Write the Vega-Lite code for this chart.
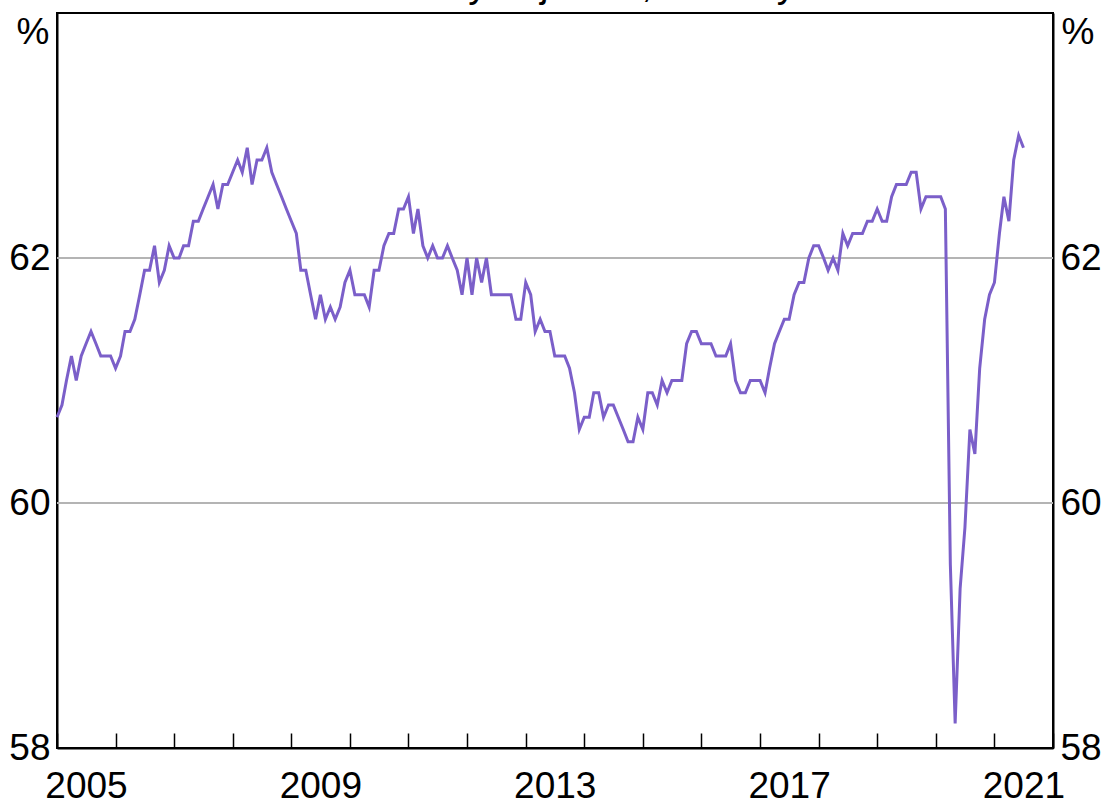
{
  "$schema": "https://vega.github.io/schema/vega-lite/v6.json",
  "width": 996,
  "height": 735,
  "autosize": {"type": "none"},
  "padding": {"left": 57, "top": 13, "right": 49, "bottom": 52},
  "background": "white",
  "config": {
    "view": {"stroke": "black", "strokeWidth": 2},
    "axis": {"labelFont": "Liberation Sans", "titleFont": "Liberation Sans", "labelColor": "black", "titleColor": "black"}
  },
  "datasets": {
    "grid": [{"g": 60}, {"g": 62}],
    "series": [
      {"d": "2005/01/01", "v": 60.7}, {"d": "2005/02/01", "v": 60.8}, {"d": "2005/03/01", "v": 61.0}, {"d": "2005/04/01", "v": 61.2},
      {"d": "2005/05/01", "v": 61.0}, {"d": "2005/06/01", "v": 61.2}, {"d": "2005/07/01", "v": 61.3}, {"d": "2005/08/01", "v": 61.4},
      {"d": "2005/09/01", "v": 61.3}, {"d": "2005/10/01", "v": 61.2}, {"d": "2005/11/01", "v": 61.2}, {"d": "2005/12/01", "v": 61.2},
      {"d": "2006/01/01", "v": 61.1}, {"d": "2006/02/01", "v": 61.2}, {"d": "2006/03/01", "v": 61.4}, {"d": "2006/04/01", "v": 61.4},
      {"d": "2006/05/01", "v": 61.5}, {"d": "2006/06/01", "v": 61.7}, {"d": "2006/07/01", "v": 61.9}, {"d": "2006/08/01", "v": 61.9},
      {"d": "2006/09/01", "v": 62.1}, {"d": "2006/10/01", "v": 61.8}, {"d": "2006/11/01", "v": 61.9}, {"d": "2006/12/01", "v": 62.1},
      {"d": "2007/01/01", "v": 62.0}, {"d": "2007/02/01", "v": 62.0}, {"d": "2007/03/01", "v": 62.1}, {"d": "2007/04/01", "v": 62.1},
      {"d": "2007/05/01", "v": 62.3}, {"d": "2007/06/01", "v": 62.3}, {"d": "2007/07/01", "v": 62.4}, {"d": "2007/08/01", "v": 62.5},
      {"d": "2007/09/01", "v": 62.6}, {"d": "2007/10/01", "v": 62.4}, {"d": "2007/11/01", "v": 62.6}, {"d": "2007/12/01", "v": 62.6},
      {"d": "2008/01/01", "v": 62.7}, {"d": "2008/02/01", "v": 62.8}, {"d": "2008/03/01", "v": 62.7}, {"d": "2008/04/01", "v": 62.9},
      {"d": "2008/05/01", "v": 62.6}, {"d": "2008/06/01", "v": 62.8}, {"d": "2008/07/01", "v": 62.8}, {"d": "2008/08/01", "v": 62.9},
      {"d": "2008/09/01", "v": 62.7}, {"d": "2008/10/01", "v": 62.6}, {"d": "2008/11/01", "v": 62.5}, {"d": "2008/12/01", "v": 62.4},
      {"d": "2009/01/01", "v": 62.3}, {"d": "2009/02/01", "v": 62.2}, {"d": "2009/03/01", "v": 61.9}, {"d": "2009/04/01", "v": 61.9},
      {"d": "2009/05/01", "v": 61.7}, {"d": "2009/06/01", "v": 61.5}, {"d": "2009/07/01", "v": 61.7}, {"d": "2009/08/01", "v": 61.5},
      {"d": "2009/09/01", "v": 61.6}, {"d": "2009/10/01", "v": 61.5}, {"d": "2009/11/01", "v": 61.6}, {"d": "2009/12/01", "v": 61.8},
      {"d": "2010/01/01", "v": 61.9}, {"d": "2010/02/01", "v": 61.7}, {"d": "2010/03/01", "v": 61.7}, {"d": "2010/04/01", "v": 61.7},
      {"d": "2010/05/01", "v": 61.6}, {"d": "2010/06/01", "v": 61.9}, {"d": "2010/07/01", "v": 61.9}, {"d": "2010/08/01", "v": 62.1},
      {"d": "2010/09/01", "v": 62.2}, {"d": "2010/10/01", "v": 62.2}, {"d": "2010/11/01", "v": 62.4}, {"d": "2010/12/01", "v": 62.4},
      {"d": "2011/01/01", "v": 62.5}, {"d": "2011/02/01", "v": 62.2}, {"d": "2011/03/01", "v": 62.4}, {"d": "2011/04/01", "v": 62.1},
      {"d": "2011/05/01", "v": 62.0}, {"d": "2011/06/01", "v": 62.1}, {"d": "2011/07/01", "v": 62.0}, {"d": "2011/08/01", "v": 62.0},
      {"d": "2011/09/01", "v": 62.1}, {"d": "2011/10/01", "v": 62.0}, {"d": "2011/11/01", "v": 61.9}, {"d": "2011/12/01", "v": 61.7},
      {"d": "2012/01/01", "v": 62.0}, {"d": "2012/02/01", "v": 61.7}, {"d": "2012/03/01", "v": 62.0}, {"d": "2012/04/01", "v": 61.8},
      {"d": "2012/05/01", "v": 62.0}, {"d": "2012/06/01", "v": 61.7}, {"d": "2012/07/01", "v": 61.7}, {"d": "2012/08/01", "v": 61.7},
      {"d": "2012/09/01", "v": 61.7}, {"d": "2012/10/01", "v": 61.7}, {"d": "2012/11/01", "v": 61.5}, {"d": "2012/12/01", "v": 61.5},
      {"d": "2013/01/01", "v": 61.8}, {"d": "2013/02/01", "v": 61.7}, {"d": "2013/03/01", "v": 61.4}, {"d": "2013/04/01", "v": 61.5},
      {"d": "2013/05/01", "v": 61.4}, {"d": "2013/06/01", "v": 61.4}, {"d": "2013/07/01", "v": 61.2}, {"d": "2013/08/01", "v": 61.2},
      {"d": "2013/09/01", "v": 61.2}, {"d": "2013/10/01", "v": 61.1}, {"d": "2013/11/01", "v": 60.9}, {"d": "2013/12/01", "v": 60.6},
      {"d": "2014/01/01", "v": 60.7}, {"d": "2014/02/01", "v": 60.7}, {"d": "2014/03/01", "v": 60.9}, {"d": "2014/04/01", "v": 60.9},
      {"d": "2014/05/01", "v": 60.7}, {"d": "2014/06/01", "v": 60.8}, {"d": "2014/07/01", "v": 60.8}, {"d": "2014/08/01", "v": 60.7},
      {"d": "2014/09/01", "v": 60.6}, {"d": "2014/10/01", "v": 60.5}, {"d": "2014/11/01", "v": 60.5}, {"d": "2014/12/01", "v": 60.7},
      {"d": "2015/01/01", "v": 60.6}, {"d": "2015/02/01", "v": 60.9}, {"d": "2015/03/01", "v": 60.9}, {"d": "2015/04/01", "v": 60.8},
      {"d": "2015/05/01", "v": 61.0}, {"d": "2015/06/01", "v": 60.9}, {"d": "2015/07/01", "v": 61.0}, {"d": "2015/08/01", "v": 61.0},
      {"d": "2015/09/01", "v": 61.0}, {"d": "2015/10/01", "v": 61.3}, {"d": "2015/11/01", "v": 61.4}, {"d": "2015/12/01", "v": 61.4},
      {"d": "2016/01/01", "v": 61.3}, {"d": "2016/02/01", "v": 61.3}, {"d": "2016/03/01", "v": 61.3}, {"d": "2016/04/01", "v": 61.2},
      {"d": "2016/05/01", "v": 61.2}, {"d": "2016/06/01", "v": 61.2}, {"d": "2016/07/01", "v": 61.3}, {"d": "2016/08/01", "v": 61.0},
      {"d": "2016/09/01", "v": 60.9}, {"d": "2016/10/01", "v": 60.9}, {"d": "2016/11/01", "v": 61.0}, {"d": "2016/12/01", "v": 61.0},
      {"d": "2017/01/01", "v": 61.0}, {"d": "2017/02/01", "v": 60.9}, {"d": "2017/03/01", "v": 61.1}, {"d": "2017/04/01", "v": 61.3},
      {"d": "2017/05/01", "v": 61.4}, {"d": "2017/06/01", "v": 61.5}, {"d": "2017/07/01", "v": 61.5}, {"d": "2017/08/01", "v": 61.7},
      {"d": "2017/09/01", "v": 61.8}, {"d": "2017/10/01", "v": 61.8}, {"d": "2017/11/01", "v": 62.0}, {"d": "2017/12/01", "v": 62.1},
      {"d": "2018/01/01", "v": 62.1}, {"d": "2018/02/01", "v": 62.0}, {"d": "2018/03/01", "v": 61.9}, {"d": "2018/04/01", "v": 62.0},
      {"d": "2018/05/01", "v": 61.9}, {"d": "2018/06/01", "v": 62.2}, {"d": "2018/07/01", "v": 62.1}, {"d": "2018/08/01", "v": 62.2},
      {"d": "2018/09/01", "v": 62.2}, {"d": "2018/10/01", "v": 62.2}, {"d": "2018/11/01", "v": 62.3}, {"d": "2018/12/01", "v": 62.3},
      {"d": "2019/01/01", "v": 62.4}, {"d": "2019/02/01", "v": 62.3}, {"d": "2019/03/01", "v": 62.3}, {"d": "2019/04/01", "v": 62.5},
      {"d": "2019/05/01", "v": 62.6}, {"d": "2019/06/01", "v": 62.6}, {"d": "2019/07/01", "v": 62.6}, {"d": "2019/08/01", "v": 62.7},
      {"d": "2019/09/01", "v": 62.7}, {"d": "2019/10/01", "v": 62.4}, {"d": "2019/11/01", "v": 62.5}, {"d": "2019/12/01", "v": 62.5},
      {"d": "2020/01/01", "v": 62.5}, {"d": "2020/02/01", "v": 62.5}, {"d": "2020/03/01", "v": 62.4}, {"d": "2020/04/01", "v": 59.5},
      {"d": "2020/05/01", "v": 58.2}, {"d": "2020/06/01", "v": 59.3}, {"d": "2020/07/01", "v": 59.8}, {"d": "2020/08/01", "v": 60.6},
      {"d": "2020/09/01", "v": 60.4}, {"d": "2020/10/01", "v": 61.1}, {"d": "2020/11/01", "v": 61.5}, {"d": "2020/12/01", "v": 61.7},
      {"d": "2021/01/01", "v": 61.8}, {"d": "2021/02/01", "v": 62.2}, {"d": "2021/03/01", "v": 62.5}, {"d": "2021/04/01", "v": 62.3},
      {"d": "2021/05/01", "v": 62.8}, {"d": "2021/06/01", "v": 63.0}, {"d": "2021/07/01", "v": 62.9}
    ]
  },
  "layer": [
    {
      "data": {"name": "grid"},
      "mark": {"type": "rule", "color": "#b4b4b4", "strokeWidth": 2},
      "encoding": {
        "y": {
          "field": "g", "type": "quantitative",
          "scale": {"domain": [58, 64], "nice": false, "zero": false},
          "axis": {
            "orient": "left",
            "values": [58, 60, 62],
            "labelFontSize": 37,
            "labelPadding": 7,
            "ticks": false,
            "grid": false,
            "domainColor": "black",
            "domainWidth": 2,
            "title": "%",
            "titleAngle": 0,
            "titleFontSize": 37,
            "titleFontWeight": "normal",
            "titleAlign": "right",
            "titleBaseline": "alphabetic",
            "titleX": -8,
            "titleY": 30
          }
        }
      }
    },
    {
      "data": {"name": "series"},
      "mark": {"type": "line", "color": "#7b5fc9", "strokeWidth": 3, "strokeJoin": "miter"},
      "encoding": {
        "x": {
          "field": "d", "type": "temporal",
          "scale": {"domain": [{"year": 2005, "month": 1, "date": 1}, {"year": 2022, "month": 1, "date": 1}], "nice": false},
          "axis": {
            "orient": "bottom",
            "tickCount": {"interval": "year", "step": 1},
            "labelExpr": "year(datum.value) % 4 == 1 ? timeFormat(datum.value, '%Y') : ''",
            "labelOffset": 29,
            "labelAlign": "center",
            "labelFlush": false,
            "labelBound": false,
            "labelOverlap": false,
            "labelFontSize": 37,
            "labelPadding": 35,
            "tickSize": -15,
            "tickColor": "black",
            "tickWidth": 1.5,
            "domainColor": "black",
            "domainWidth": 2,
            "grid": false,
            "title": "Seasonally adjusted, monthly",
            "titleFontSize": 38,
            "titleFontWeight": "normal",
            "titleAlign": "center",
            "titleBaseline": "alphabetic",
            "titleAnchor": null,
            "titleX": 491,
            "titleY": -752
          }
        },
        "y": {
          "field": "v", "type": "quantitative",
          "scale": {"domain": [58, 64], "nice": false, "zero": false},
          "axis": {
            "orient": "right",
            "values": [58, 60, 62],
            "labelFontSize": 37,
            "labelPadding": 7,
            "ticks": false,
            "grid": false,
            "domainColor": "black",
            "domainWidth": 2,
            "title": "%",
            "titleAngle": 0,
            "titleFontSize": 37,
            "titleFontWeight": "normal",
            "titleAlign": "left",
            "titleBaseline": "alphabetic",
            "titleX": 8,
            "titleY": 30
          }
        }
      }
    }
  ],
  "resolve": {"scale": {"y": "independent"}}
}
